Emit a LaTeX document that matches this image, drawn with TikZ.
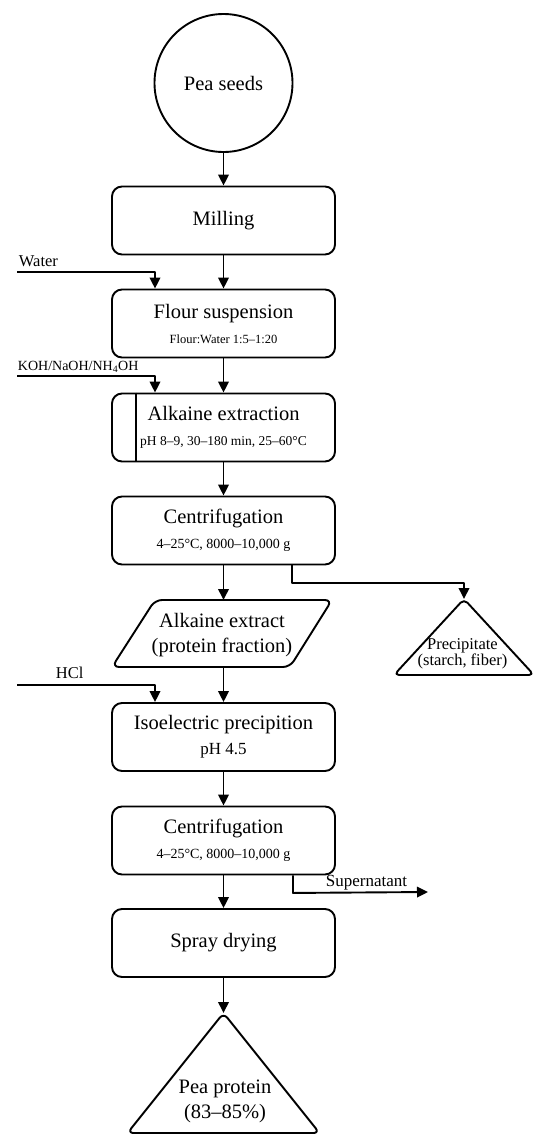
\documentclass[tikz,border=0pt]{standalone}
\usepackage{fontspec}
\setmainfont{Liberation Serif}
\usetikzlibrary{arrows.meta}
\newcommand\mainf{\fontsize{20.5}{25}\selectfont}
\newcommand\labf{\fontsize{16.5}{19}\selectfont}
\begin{document}
\begin{tikzpicture}[x=1pt,y=-1pt,line width=1.9pt,line join=round,
  box/.style={draw,rounded corners=10pt,minimum width=223pt,minimum height=68pt,inner sep=0pt,align=center,font=\mainf},
  arr/.style={-{Triangle[length=11pt,width=10.5pt]}},
  lab/.style={anchor=base west,inner sep=0pt,font=\labf},
  shapeline/.style={draw,rounded corners=7pt},
  txt/.style={align=center,inner sep=0pt}]
\useasboundingbox (0,0) rectangle (550,1146);
\fill[white] (0,0) rectangle (550,1146);

\node[draw,circle,minimum size=138pt,inner sep=0pt,font=\mainf] (pea) at (223.5,83) {Pea seeds};
\node[box] (mill) at (223.5,220.5) {Milling};
\node[box] (flour) at (223.5,323.5) {Flour suspension\\{\fontsize{12.5}{15}\selectfont Flour:Water 1:5–1:20}};
\node[box] (alk) at (223.5,427.5) {Alkaine extraction\\{\fontsize{13.5}{16}\selectfont pH 8–9, 30–180 min, 25–60°C}};
\draw ([xshift=25pt]alk.north west) -- ([xshift=25pt]alk.south west);
\node[box] (cen1) at (223.5,530.5) {Centrifugation\\{\fontsize{14}{17}\selectfont 4–25°C, 8000–10,000 g}};

% parallelogram
\draw[shapeline] (155,600) -- (332,600) -- (290,667) -- (112,667) -- cycle;
\coordinate (exttop) at (223.5,600);
\coordinate (extbot) at (223.5,667);
\node[txt,font=\mainf] (ext) at (222,635) {Alkaine extract\\(protein fraction)};

% precipitate triangle
\draw[shapeline,rounded corners=5pt] (464,599) -- (534,675) -- (394,675) -- cycle;
\coordinate (precapex) at (464,599);
\node[txt,font=\fontsize{16.5}{15}\selectfont] (prec) at (462.5,654) {Precipitate\\(starch, fiber)};

\node[box] (iso) at (223.5,737) {Isoelectric precipition\\{\fontsize{17}{20}\selectfont pH 4.5}};
\node[box] (cen2) at (223.5,840.5) {Centrifugation\\{\fontsize{14}{17}\selectfont 4–25°C, 8000–10,000 g}};
\node[box] (spray) at (223.5,943) {Spray drying};

% pea protein triangle
\draw[shapeline,rounded corners=6pt] (223.5,1013) -- (319.5,1133) -- (127.5,1133) -- cycle;
\coordinate (protapex) at (223.5,1013);
\node[txt,font=\mainf] (prot) at (225,1101) {Pea protein\\(83–85\%)};

% side inputs
\node[lab] (water) at (18,266) {Water};
\node[lab,font=\fontsize{14}{17}\selectfont] (koh) at (17,370) {KOH/NaOH/NH\textsubscript{4}OH};
\node[lab] (hcl) at (55,678) {HCl};
\node[lab,font=\fontsize{17}{20}\selectfont] (sup) at (325,886) {Supernatant};

\coordinate (wstart) at (17,272);
\coordinate (kstart) at (17,376);
\coordinate (hstart) at (17,685);
\coordinate (supend) at (428,892);

% main flow
\draw[arr] (pea.south) -- (mill.north);
\draw[arr] (mill.south) -- (flour.north);
\draw[arr] (wstart) -| ([xshift=-68.5pt]flour.north);
\draw[arr] (flour.south) -- (alk.north);
\draw[arr] (kstart) -| ([xshift=-68.5pt]alk.north);
\draw[arr] (alk.south) -- (cen1.north);
\draw[arr] (cen1.south) -- (exttop);
\draw[arr] ([xshift=68.5pt]cen1.south) -- ++(0,17.5) -| (precapex);
\draw[arr] (extbot) -- (iso.north);
\draw[arr] (hstart) -| ([xshift=-68.5pt]iso.north);
\draw[arr] (iso.south) -- (cen2.north);
\draw[arr] ([xshift=69.5pt]cen2.south) -- ++(0,17.5) -- (supend);
\draw[arr] (cen2.south) -- (spray.north);
\draw[arr] (spray.south) -- (protapex);
\end{tikzpicture}
\end{document}
